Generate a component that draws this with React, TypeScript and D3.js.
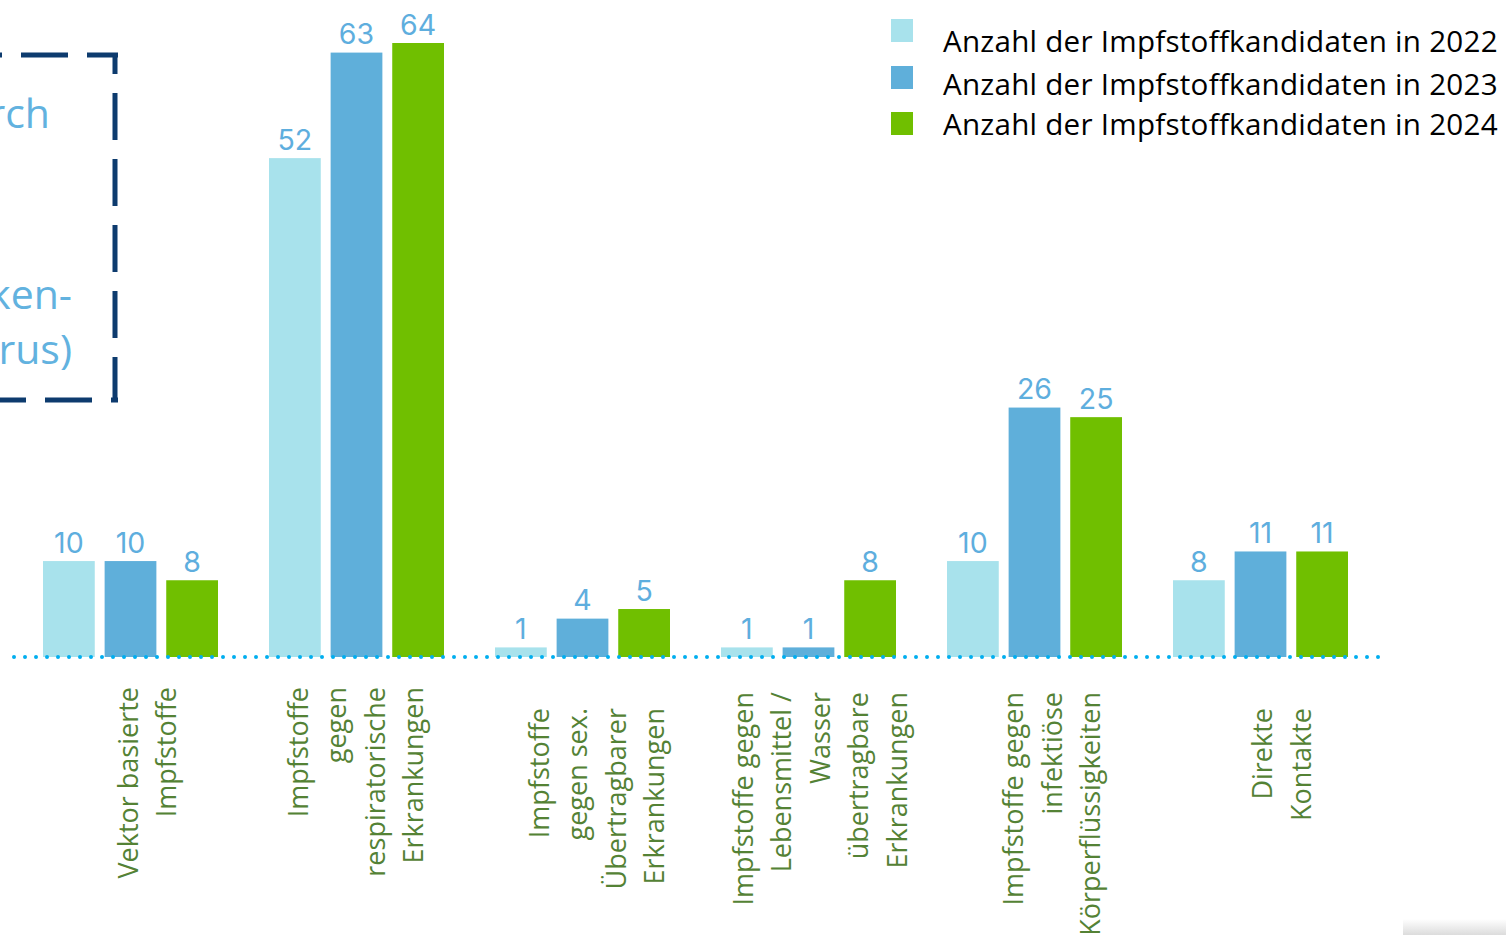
import React from "react";
import * as d3 from "d3";

const categories = ["vektor", "respiratorisch", "sex", "lebensmittel", "koerper", "direkt"];
const categoryLines: string[][] = [
  ["Vektor basierte", "Impfstoffe"],
  ["Impfstoffe", "gegen", "respiratorische", "Erkrankungen"],
  ["Impfstoffe", "gegen sex.", "Übertragbarer", "Erkrankungen"],
  ["Impfstoffe gegen", "Lebensmittel /", "Wasser", "übertragbare", "Erkrankungen"],
  ["Impfstoffe gegen", "infektiöse", "Körperflüssigkeiten"],
  ["Direkte", "Kontakte"],
];
const seriesNames = [
  "Anzahl der Impfstoffkandidaten in 2022",
  "Anzahl der Impfstoffkandidaten in 2023",
  "Anzahl der Impfstoffkandidaten in 2024",
];
const values2022 = [10, 52, 1, 1, 10, 8];
const values2023 = [10, 63, 4, 1, 26, 11];
const values2024 = [8, 64, 5, 8, 25, 11];
const boxTexts = ["rch", "ken-", "rus)"];

// layout / style constants
const W = 1506;
const H = 935;
const colors = ["#a8e2ec", "#5fafda", "#70bf00"];
const labelDx = [17, -0.5, 14.5, 11.5, 17.5, 21.5];
const labelTop = [687, 687, 708, 692, 692, 708];
const lineGap = 38.5;
const catFont = 27;

export default function App() {
  const series = [values2022, values2023, values2024];
  const y = d3.scaleLinear().domain([0, 64]).range([657, 43]);
  const x0 = d3.scaleBand<string>().domain(categories).range([17.5, 1373.5]).padding(0);
  const x1 = d3
    .scaleBand<number>()
    .domain([0, 1, 2])
    .range([25.5, 200.5])
    .paddingInner(0.16)
    .paddingOuter(0);

  const legendSquareY = [19, 66, 112];
  const legendBaseline = [52, 95, 135];
  const boxTextPos = [
    { x: 50, y: 128 },
    { x: 72, y: 309 },
    { x: 72, y: 364 },
  ];

  return (
    <svg
      width={W}
      height={H}
      style={{ position: "absolute", left: 0, top: 0, background: "#fff" }}
    >
      <defs>
        <linearGradient id="shadow" x1="0" y1="0" x2="0" y2="1">
          <stop offset="0" stopColor="#ffffff" />
          <stop offset="1" stopColor="#dcdcdc" />
        </linearGradient>
      </defs>
      <rect x={0} y={0} width={W} height={H} fill="#fff" />

      {/* dashed annotation box (cut off at left) */}
      <g stroke="#0d3b6e" strokeWidth={5} fill="none" strokeDasharray="47 19">
        <line x1={118} y1={55} x2={-60} y2={55} strokeDashoffset={16} />
        <line x1={115} y1={55} x2={115} y2={402} strokeDashoffset={28} />
        <line x1={-21} y1={400} x2={118} y2={400} strokeDashoffset={0} />
      </g>
      <g fill="#62b2df" fontFamily="'Open Sans', sans-serif" fontSize={41} textAnchor="end">
        {boxTexts.map((t, i) => (
          <text key={i} x={boxTextPos[i].x} y={boxTextPos[i].y}>
            {t}
          </text>
        ))}
      </g>

      {/* bars */}
      {categories.map((c, ci) => (
        <g key={c} transform={`translate(${x0(c)},0)`}>
          {series.map((vals, si) => (
            <rect
              key={si}
              x={x1(si)}
              y={y(vals[ci])}
              width={x1.bandwidth()}
              height={y(0) - y(vals[ci])}
              fill={colors[si]}
            />
          ))}
          {series.map((vals, si) => (
            <text
              key={"l" + si}
              x={(x1(si) as number) + x1.bandwidth() / 2}
              y={y(vals[ci]) - 8.5}
              textAnchor="middle"
              fontFamily="Inter, sans-serif"
              fontSize={28.5}
              fill="#5eaede"
            >
              {vals[ci]}
            </text>
          ))}
        </g>
      ))}

      {/* dotted baseline */}
      <line
        x1={14}
        x2={1379}
        y1={y(0)}
        y2={y(0)}
        stroke="#00aeef"
        strokeWidth={4}
        strokeLinecap="round"
        strokeDasharray="0 11"
      />

      {/* category labels */}
      {categories.map((c, ci) => {
        const lines = categoryLines[ci];
        const mid = (x0(c) as number) + x0.bandwidth() / 2 + labelDx[ci];
        const n = lines.length;
        return (
          <g key={"cat" + c}>
            {lines.map((ln, li) => {
              const capCenter = mid + (li - (n - 1) / 2) * lineGap;
              const bx = capCenter + (catFont * 0.714) / 2;
              return (
                <text
                  key={li}
                  transform={`translate(${bx},${labelTop[ci]}) rotate(-90)`}
                  textAnchor="end"
                  fontFamily="'Open Sans', sans-serif"
                  fontSize={catFont}
                  fill="#548235"
                >
                  {ln}
                </text>
              );
            })}
          </g>
        );
      })}

      {/* legend */}
      {seriesNames.map((s, i) => (
        <g key={"lg" + i}>
          <rect x={891} y={legendSquareY[i]} width={22} height={23} fill={colors[i]} />
          <text
            x={943}
            y={legendBaseline[i]}
            fontFamily="'Open Sans', sans-serif"
            fontSize={29.6}
            letterSpacing={0.25}
            fill="#000"
          >
            {s}
          </text>
        </g>
      ))}

      {/* slide shadow artifact bottom right */}
      <rect x={1403} y={919} width={103} height={16} fill="url(#shadow)" />
    </svg>
  );
}
